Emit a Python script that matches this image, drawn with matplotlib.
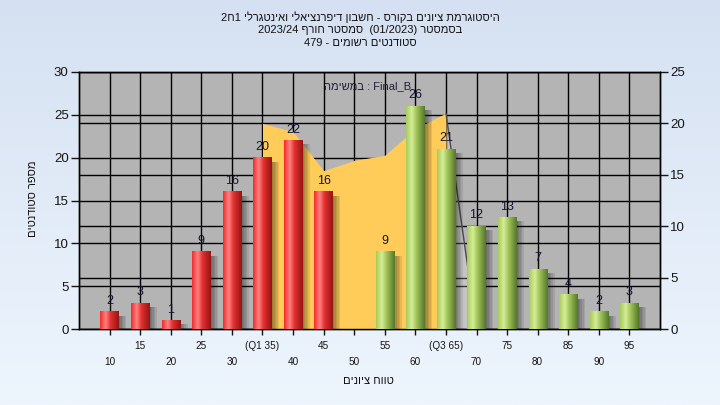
import re
import numpy as np
import matplotlib
matplotlib.use("Agg")
import matplotlib.pyplot as plt
from matplotlib.colors import LinearSegmentedColormap
from matplotlib.patches import Rectangle

plt.rcParams['font.family'] = ['Liberation Sans', 'DejaVu Sans']

# ---------------- data ----------------
categories = [10, 15, 20, 25, 30, 35, 40, 45, 50, 55, 60, 65, 70, 75, 80, 85, 90, 95]
tick_labels = ["10", "15", "20", "25", "30", "(Q1 35)", "40", "45", "50",
               "55", "60", "(Q3 65)", "70", "75", "80", "85", "90", "95"]
counts = [2, 3, 1, 9, 16, 20, 22, 16, 0, 9, 26, 21, 12, 13, 7, 4, 2, 3]
red_until = 45          # bars up to this grade are red, later ones green

# inter-quartile area (right axis scale)
area_cats = [35, 40, 45, 50, 55, 60, 65]
area_vals = [20.0, 19.2, 15.4, 16.4, 16.9, 19.5, 21.0]
tail_cats = [65, 70]
tail_vals = [21.0, 0.0]

title_lines = ["היסטוגרמת ציונים בקורס - חשבון דיפרנציאלי ואינטגרלי 1ח2",
               "בסמסטר (01/2023)  סמסטר חורף 2023/24",
               "סטודנטים רשומים - 479"]
series_label = "Final_B : במשימה"
y_label = "מספר סטודנטים"
x_label = "טווח ציונים"


def vis(s):
    """Very small bidi helper: logical RTL string -> visual order."""
    r = s[::-1]
    r = re.sub(r'[0-9A-Za-z_/.]+', lambda m: m.group(0)[::-1], r)
    r = r.translate(str.maketrans({'(': ')', ')': '('}))
    return r


# ---------------- figure ----------------
fig = plt.figure(figsize=(7.2, 4.05), dpi=100)

bg = fig.add_axes([0, 0, 1, 1], zorder=-5)
bg.axis('off')
grad = np.linspace(0, 1, 256)[:, None]
bg_cmap = LinearSegmentedColormap.from_list('bg', ['#d5e1f2', '#eef5fd'])
bg.imshow(grad, aspect='auto', cmap=bg_cmap, extent=(0, 1, 0, 1), origin='upper')

pos = np.arange(len(categories))
idx = {c: i for i, c in enumerate(categories)}

rect = [79 / 720, 1 - 329 / 405, (660 - 79) / 720, (329 - 72) / 405]
ax = fig.add_axes(rect, zorder=0)
ax.set_facecolor('#b4b4b4')
ax2 = ax.twinx()
ax2.set_zorder(1)
ax2.patch.set_visible(False)
ax3 = ax.twinx()
ax3.set_zorder(2)
ax3.patch.set_visible(False)

xlim = (-1, len(categories))
for a in (ax, ax2, ax3):
    a.set_xlim(*xlim)
ax.set_ylim(0, 30)
ax3.set_ylim(0, 30)
ax2.set_ylim(0, 25)

# grid (left scale + vertical)
ax.set_yticks([0, 5, 10, 15, 20, 25, 30])
ax.yaxis.grid(True, color='black', lw=1.0)
ax.set_xticks(pos[::2], [tick_labels[i] for i in pos[::2]])
ax.set_xticks(pos[1::2], [tick_labels[i] for i in pos[1::2]], minor=True)
ax.xaxis.grid(True, which='both', color='black', lw=1.0)
ax.set_axisbelow(True)

# right scale gridlines + area
ax2.set_yticks([0, 5, 10, 15, 20, 25])
for v in [5, 10, 15, 20]:
    ax2.axhline(v, color='black', lw=1.0, zorder=1)
ax2.fill_between([idx[c] for c in area_cats], area_vals, 0,
                 color='#ffcc5a', lw=0, zorder=2)
ax2.fill_between([idx[c] for c in tail_cats], tail_vals, 0,
                 color='white', alpha=0.22, lw=0, zorder=2)
ax2.plot([idx[c] for c in tail_cats], tail_vals, color='#4a4a4a', lw=1.0,
         zorder=2.5, solid_capstyle='butt')

# bars with cylinder gradient
red_cmap = LinearSegmentedColormap.from_list(
    'r', [(0, '#f42a2a'), (0.3, '#ff8282'), (0.55, '#e43030'), (1, '#941414')])
green_cmap = LinearSegmentedColormap.from_list(
    'g', [(0, '#a6cb58'), (0.3, '#d6ee98'), (0.55, '#a2c45a'), (1, '#55772a')])
hgrad = np.linspace(0, 1, 64)[None, :]
w = 0.6
for x, c, v in zip(pos, categories, counts):
    if v <= 0:
        continue
    cm = red_cmap if c <= red_until else green_cmap
    # soft shadow
    for k, dx in enumerate([0.05, 0.1, 0.15, 0.2, 0.25]):
        ax3.add_patch(Rectangle((x - w / 2 + dx, 0), w, max(v - 0.45, 0),
                                facecolor='black', alpha=0.09, lw=0, zorder=2))
    ax3.imshow(hgrad, aspect='auto', cmap=cm, interpolation='bilinear',
               extent=(x - w / 2, x + w / 2, 0, v), zorder=3)
    ax3.annotate(str(v), (x, v), xytext=(0, 3.5), textcoords='offset points',
                 ha='center', va='bottom', fontsize=9, color='#141432', zorder=4)
ax3.set_xlim(*xlim)
ax3.set_ylim(0, 30)
ax3.axis('off')

# axes styling
for a in (ax, ax2):
    for s in a.spines.values():
        s.set_color('black')
        s.set_linewidth(1.0)
ax.tick_params(axis='y', direction='out', length=5.5, width=1, pad=2,
               labelsize=9.5, colors='#151515')
ax2.tick_params(axis='y', direction='out', length=5.5, width=1, pad=2,
                labelsize=9.5, colors='#151515')
ax.tick_params(axis='x', which='major', direction='out', length=4, width=1,
               pad=16.5, labelsize=7.2, colors='#151515')
ax.tick_params(axis='x', which='minor', direction='out', length=4, width=1,
               pad=4.8, labelsize=7.2, colors='#151515')

# texts
for i, line in enumerate(title_lines):
    fig.text(360 / 720, 1 - (17.5 + 12.6 * i) / 405, vis(line), ha='center',
             va='center', fontsize=8, color='#101010')
fig.text(368 / 720, 1 - 86 / 405, vis(series_label), ha='center', va='center',
         fontsize=8, color='#1e1e3c', zorder=10)
fig.text(32.5 / 720, 1 - 199 / 405, vis(y_label), rotation=90, ha='center',
         va='center', fontsize=8, color='#101010')
fig.text(368 / 720, 1 - 381 / 405, vis(x_label), ha='center', va='center',
         fontsize=8, color='#101010')

fig.savefig('out.png', dpi=100)
